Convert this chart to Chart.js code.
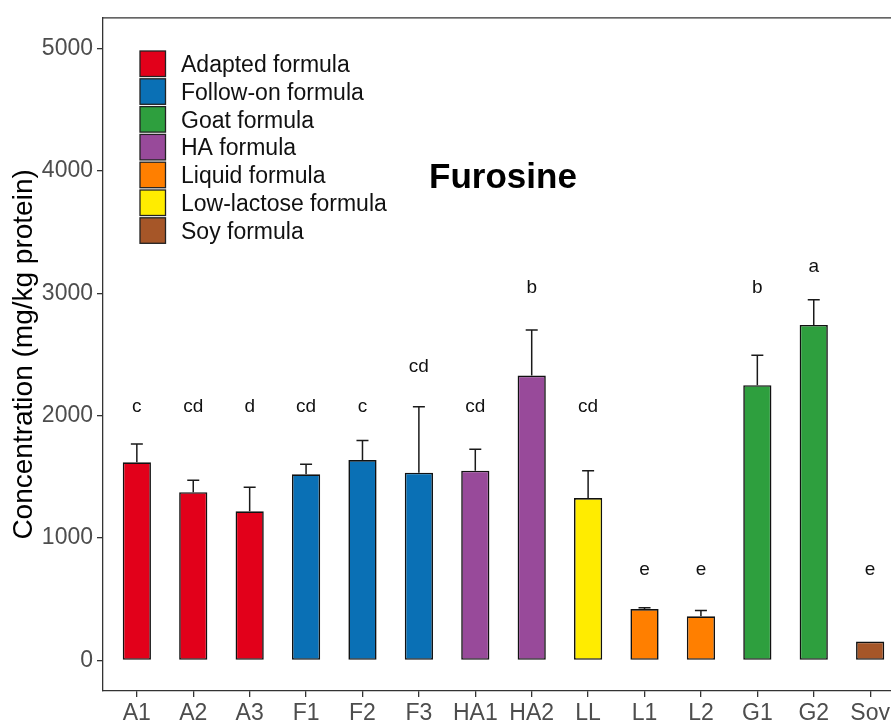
<!DOCTYPE html>
<html>
<head>
<meta charset="utf-8">
<script src="https://cdn.jsdelivr.net/npm/chart.js@4.4.1/dist/chart.umd.min.js"></script>
<style>
  html, body { margin: 0; padding: 0; background: #fff; overflow: hidden; width: 891px; height: 720px; }
  canvas { display: block; }
</style>
</head>
<body>
<canvas id="chart" width="920" height="720"></canvas>
<script>
// Formula samples along the x axis
const categories = ['A1', 'A2', 'A3', 'F1', 'F2', 'F3', 'HA1', 'HA2', 'LL', 'L1', 'L2', 'G1', 'G2', 'Soy'];
// Mean furosine concentration (mg/kg protein)
const means = [1618, 1374, 1218, 1520, 1637, 1534, 1550, 2327, 1326, 419, 360, 2248, 2741, 154];
// Standard deviation (upper error bar)
const sds = [149, 98, 197, 82, 160, 539, 176, 373, 224, 11, 48, 246, 205, 0];
// Significance letters and the value of their baseline
const letters = ['c', 'cd', 'd', 'cd', 'c', 'cd', 'cd', 'b', 'cd', 'e', 'e', 'b', 'a', 'e'];
const letterY = [2030, 2030, 2030, 2030, 2030, 2360, 2030, 3000, 2030, 700, 700, 3000, 3170, 700];
// Formula types, their fill colours, and the type of each sample
const groups = ['Adapted formula', 'Follow-on formula', 'Goat formula', 'HA formula', 'Liquid formula', 'Low-lactose formula', 'Soy formula'];
const groupColors = ['#E2001A', '#0A70B5', '#2E9F3E', '#984A9A', '#FF7F00', '#FFEC00', '#A65628'];
const sampleGroup = [0, 0, 0, 1, 1, 1, 3, 3, 5, 4, 4, 2, 2, 6];
// Y axis tick values
const yTicks = [0, 1000, 2000, 3000, 4000, 5000];

const FONT = '"Liberation Sans", Arial, sans-serif';
const AXIS = '#333333';

const extras = {
  id: 'extras',
  afterDatasetsDraw(chart) {
    const { ctx, chartArea: a, scales: { x, y } } = chart;
    ctx.save();

    // panel border (top and right)
    ctx.strokeStyle = AXIS;
    ctx.lineWidth = 1.3;
    ctx.beginPath();
    ctx.moveTo(a.left, a.top);
    ctx.lineTo(a.right, a.top);
    ctx.lineTo(a.right, a.bottom);
    ctx.stroke();

    // upper error bars
    ctx.strokeStyle = '#1a1a1a';
    ctx.lineWidth = 1.5;
    const cap = 12;
    means.forEach((m, i) => {
      if (!sds[i]) return;
      const px = x.getPixelForValue(i);
      const y0 = y.getPixelForValue(m);
      const y1 = y.getPixelForValue(m + sds[i]);
      ctx.beginPath();
      ctx.moveTo(px, y0);
      ctx.lineTo(px, y1);
      ctx.moveTo(px - cap / 2, y1);
      ctx.lineTo(px + cap / 2, y1);
      ctx.stroke();
    });

    // significance letters
    ctx.fillStyle = '#111';
    ctx.font = '19px ' + FONT;
    ctx.textAlign = 'center';
    ctx.textBaseline = 'alphabetic';
    letters.forEach((t, i) => {
      ctx.fillText(t, x.getPixelForValue(i), y.getPixelForValue(letterY[i]));
    });

    // title
    ctx.font = 'bold 35px ' + FONT;
    ctx.fillStyle = '#000';
    ctx.fillText('Furosine', 503, 188);

    // legend
    const lx = 140, ly = 51, bw = 25.5, bh = 25.5, step = 27.8;
    ctx.font = '23px ' + FONT;
    ctx.textAlign = 'left';
    ctx.textBaseline = 'middle';
    groups.forEach((g, i) => {
      const top = ly + i * step;
      ctx.fillStyle = groupColors[i];
      ctx.fillRect(lx, top, bw, bh);
      ctx.strokeStyle = '#222';
      ctx.lineWidth = 1.3;
      ctx.strokeRect(lx, top, bw, bh);
      ctx.fillStyle = '#111';
      ctx.fillText(g, 181, top + bh / 2 + 2);
    });

    ctx.restore();
  }
};

new Chart(document.getElementById('chart'), {
  type: 'bar',
  data: {
    datasets: [{
      data: means.map((v, i) => ({ x: i, y: v })),
      backgroundColor: sampleGroup.map(g => groupColors[g]),
      borderColor: '#111111',
      borderWidth: 1.6,
      borderSkipped: false,
      barPercentage: 0.5,
      categoryPercentage: 1.0
    }]
  },
  options: {
    responsive: false,
    animation: false,
    devicePixelRatio: 1,
    layout: { padding: { top: 14, right: 16, bottom: 0, left: 0 } },
    plugins: { legend: { display: false }, tooltip: { enabled: false }, title: { display: false } },
    scales: {
      x: {
        type: 'linear',
        min: -0.6,
        max: 13.6,
        offset: false,
        afterBuildTicks: s => { s.ticks = categories.map((_, i) => ({ value: i })); },
        afterFit: s => { s.height = 29; },
        ticks: {
          autoSkip: false,
          maxRotation: 0,
          padding: 3,
          color: '#4d4d4d',
          font: { family: FONT, size: 23 },
          callback: v => categories[v]
        },
        grid: { offset: false, drawOnChartArea: false, drawTicks: true, tickLength: 6, color: AXIS, lineWidth: 1.3 },
        border: { display: true, color: AXIS, width: 1.3 }
      },
      y: {
        type: 'linear',
        min: -250,
        max: 5250,
        afterBuildTicks: s => { s.ticks = yTicks.map(v => ({ value: v })); },
        afterFit: s => { s.width = 103; },
        ticks: {
          padding: 4,
          color: '#4d4d4d',
          font: { family: FONT, size: 23 },
          callback: v => String(v)
        },
        grid: { drawOnChartArea: false, drawTicks: true, tickLength: 6, color: AXIS, lineWidth: 1.3 },
        border: { display: true, color: AXIS, width: 1.3 },
        title: {
          display: true,
          text: 'Concentration (mg/kg protein)',
          color: '#000',
          font: { family: FONT, size: 28 },
          padding: { top: 7, bottom: 0 }
        }
      }
    }
  },
  plugins: [extras]
});
</script>
</body>
</html>
